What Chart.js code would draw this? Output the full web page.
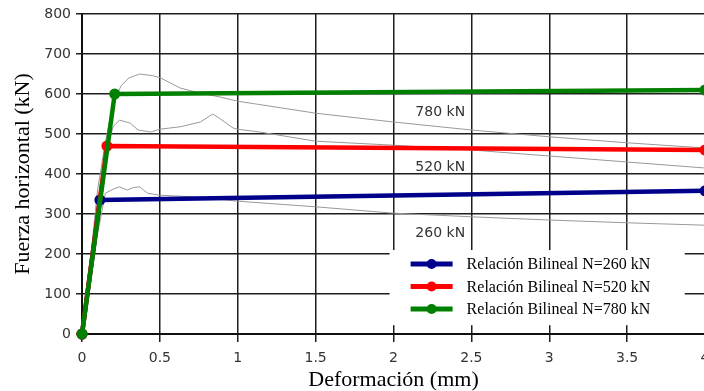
<!DOCTYPE html>
<html>
<head>
<meta charset="utf-8">
<script src="https://cdn.jsdelivr.net/npm/chart.js@4.4.1/dist/chart.umd.min.js"></script>
<style>
  html, body { margin: 0; padding: 0; background: #fff; overflow: hidden; }
  #wrap { width: 712px; height: 391px; }
</style>
</head>
<body>
<div id="wrap"><canvas id="chart" width="712" height="391"></canvas></div>
<script>
// axis ticks
const xTickLabels = ['0', '0.5', '1', '1.5', '2', '2.5', '3', '3.5', '4'];
const yTickLabels = ['0', '100', '200', '300', '400', '500', '600', '700', '800'];

// bilinear relations (deformation mm, force kN)
const bilX260 = [0, 0.115, 4];
const bilY260 = [0, 335, 358];
const bilX520 = [0, 0.16, 4];
const bilY520 = [0, 470, 460];
const bilX780 = [0, 0.21, 4];
const bilY780 = [0, 600, 610];

// measured curves (grey)
const testX780 = [0, 0.05, 0.1, 0.15, 0.2, 0.25, 0.3, 0.37, 0.45, 0.5, 0.63, 0.76, 0.88, 1.0, 1.5, 2.0, 2.5, 3.0, 3.5, 4.0];
const testY780 = [0, 170, 360, 480, 575, 620, 640, 650, 646, 641, 615, 602, 593, 582, 552, 530, 510, 493, 478, 465];
const testX520 = [0, 0.05, 0.1, 0.15, 0.2, 0.24, 0.31, 0.36, 0.44, 0.5, 0.63, 0.76, 0.84, 0.88, 0.97, 1.0, 1.14, 1.5, 2.0, 2.5, 3.0, 3.5, 4.0];
const testY520 = [0, 160, 330, 450, 518, 535, 527, 510, 505, 512, 518, 530, 550, 540, 515, 512, 505, 482, 472, 460, 445, 430, 415];
const testX260 = [0, 0.05, 0.1, 0.15, 0.2, 0.24, 0.29, 0.33, 0.37, 0.42, 0.5, 0.76, 1.0, 1.5, 2.0, 2.5, 3.0, 3.5, 4.0];
const testY260 = [0, 120, 250, 352, 362, 368, 360, 366, 368, 352, 347, 342, 332, 318, 302, 293, 285, 278, 272];

// text inside the plot
const curveLabels = ['780 kN', '520 kN', '260 kN'];
const curveLabelX = 2.3;
const curveLabelY = [555, 417, 252];
const legendLabels = ['Relación Bilineal N=260 kN', 'Relación Bilineal N=520 kN', 'Relación Bilineal N=780 kN'];

const colors = ['#00008b', '#ff0000', '#008000'];

const toPoints = (xs, ys) => xs.map((x, i) => ({x: x, y: ys[i]}));

const bilineal = (xs, ys, color, order) => ({
  data: toPoints(xs, ys),
  borderColor: color,
  backgroundColor: color,
  borderWidth: 4.5,
  pointRadius: 5.5,
  pointBorderWidth: 0,
  pointBackgroundColor: color,
  tension: 0,
  clip: false,
  order: order,
});

const measured = (xs, ys) => ({
  data: toPoints(xs, ys),
  borderColor: '#999',
  borderWidth: 1,
  pointRadius: 0,
  tension: 0,
  order: 10,
});

// labels on the curves + legend box
const annotations = {
  id: 'annotations',
  afterDatasetsDraw(chart) {
    const {ctx, scales: {x, y}} = chart;
    ctx.save();
    ctx.font = '14px "DejaVu Sans"';
    ctx.fillStyle = '#333';
    ctx.textAlign = 'center';
    ctx.textBaseline = 'middle';
    curveLabels.forEach((t, i) => {
      ctx.fillText(t, x.getPixelForValue(curveLabelX), y.getPixelForValue(curveLabelY[i]));
    });

    // legend
    const left = x.getPixelForValue(1.975);
    const right = x.getPixelForValue(3.87);
    const top = y.getPixelForValue(210);
    const bottom = y.getPixelForValue(22);
    ctx.fillStyle = '#fff';
    ctx.fillRect(left, top, right - left, bottom - top);
    ctx.font = '16px "Liberation Serif"';
    ctx.textAlign = 'left';
    legendLabels.forEach((t, i) => {
      const rowY = top + 14 + i * 22.5;
      ctx.strokeStyle = colors[i];
      ctx.lineWidth = 5;
      ctx.beginPath();
      ctx.moveTo(left + 21, rowY);
      ctx.lineTo(left + 63, rowY);
      ctx.stroke();
      ctx.fillStyle = colors[i];
      ctx.beginPath();
      ctx.arc(left + 42, rowY, 5, 0, Math.PI * 2);
      ctx.fill();
      ctx.fillStyle = '#000';
      ctx.fillText(t, left + 77, rowY + 1);
    });
    ctx.restore();
  }
};

new Chart(document.getElementById('chart'), {
  type: 'line',
  data: {
    datasets: [
      bilineal(bilX780, bilY780, colors[2], 1),
      bilineal(bilX520, bilY520, colors[1], 2),
      bilineal(bilX260, bilY260, colors[0], 3),
      measured(testX780, testY780),
      measured(testX520, testY520),
      measured(testX260, testY260),
    ],
  },
  options: {
    responsive: false,
    animation: false,
    layout: { padding: { top: 14, right: 7, left: 0, bottom: 0 } },
    plugins: {
      legend: { display: false },
      tooltip: { enabled: false },
    },
    scales: {
      x: {
        type: 'linear',
        min: 0,
        max: 4,
        afterFit: (scale) => {
          scale.height = 57;
          // let the last label run past the edge like the original
          scale.paddingRight = 0;
          scale.paddingLeft = 0;
        },
        afterBuildTicks: (scale) => {
          scale.ticks = xTickLabels.map((t) => ({value: parseFloat(t)}));
        },
        ticks: {
          autoSkip: false,
          maxRotation: 0,
          padding: 8,
          color: '#333',
          font: { family: 'DejaVu Sans', size: 14 },
          callback: (value, index) => xTickLabels[index],
        },
        grid: { color: '#1e1e1e', lineWidth: 1.5, tickLength: 8, tickColor: '#1e1e1e' },
        border: { color: '#111', width: 2 },
        title: {
          display: true,
          text: 'Deformación (mm)',
          color: '#000',
          font: { family: 'Liberation Serif', size: 22, lineHeight: 1 },
          padding: { top: 0, bottom: 0 },
        },
      },
      y: {
        min: 0,
        max: 800,
        afterFit: (scale) => { scale.width = 82; },
        afterBuildTicks: (scale) => {
          scale.ticks = yTickLabels.map((t) => ({value: parseFloat(t)}));
        },
        ticks: {
          padding: 5,
          color: '#333',
          font: { family: 'DejaVu Sans', size: 14 },
          callback: (value, index) => yTickLabels[index],
        },
        grid: { color: '#1e1e1e', lineWidth: 1.5, tickLength: 6, tickColor: '#1e1e1e' },
        border: { color: '#111', width: 2 },
        title: {
          display: true,
          text: 'Fuerza horizontal (kN)',
          color: '#000',
          font: { family: 'Liberation Serif', size: 22, lineHeight: 1 },
          padding: { top: 12, bottom: 0 },
        },
      },
    },
  },
  plugins: [annotations],
});
</script>
</body>
</html>
